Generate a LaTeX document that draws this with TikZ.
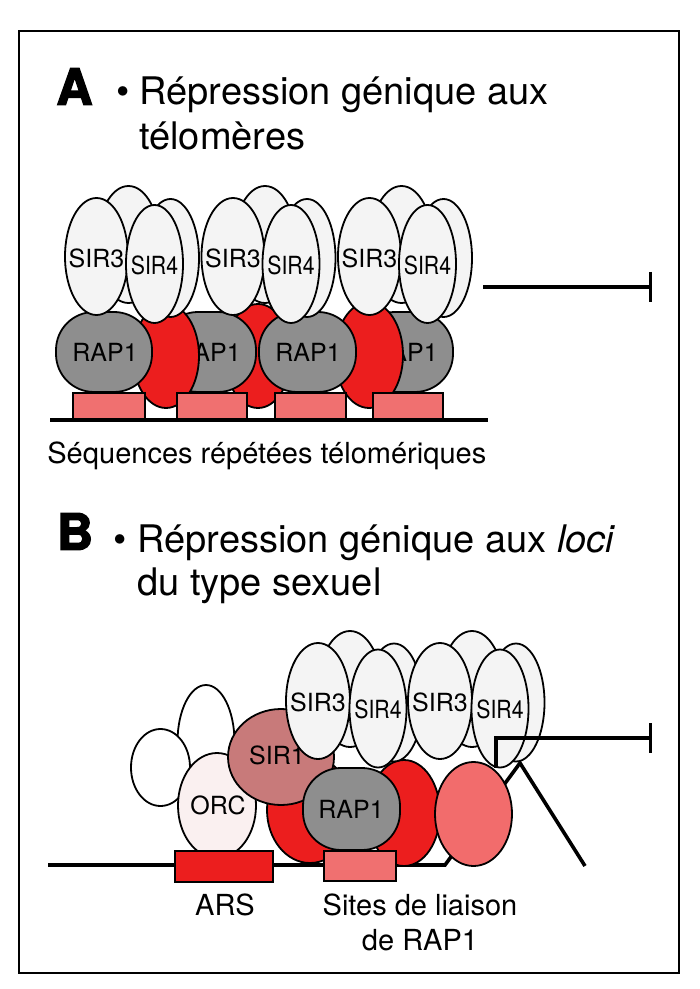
\documentclass[tikz,border=0pt]{standalone}
\usepackage{graphicx}
\usepackage{fontspec}
\setmainfont{TeX Gyre Heros}
\newfontfamily\blockfont[FakeBold=3]{TeX Gyre Heros}
\usetikzlibrary{arrows.meta}
\definecolor{sirwhite}{RGB}{244,244,244}
\definecolor{rapgray}{RGB}{142,142,142}
\definecolor{rapred}{RGB}{236,30,30}
\definecolor{sitepink}{RGB}{240,112,112}
\definecolor{orcpink}{RGB}{250,240,240}
\definecolor{sironerose}{RGB}{200,122,122}
\definecolor{sirpink}{RGB}{242,108,108}

\begin{document}
\begin{tikzpicture}[x=0.5pt,y=-0.5pt]\tikzstyle{every node}+=[inner sep=0pt]
	\tikzstyle{sir}=[draw=black,line width=0.9pt,fill=sirwhite]
	\tikzstyle{rap}=[draw=black,line width=0.9pt,fill=rapgray,rounded corners=19pt]
	\tikzstyle{redblob}=[draw=black,line width=0.9pt,fill=rapred]
	\tikzstyle{site}=[draw=black,line width=0.9pt,fill=sitepink]
	\tikzstyle{dna}=[black,line width=1.8pt]
	\tikzstyle{repress}=[black,line width=1.6pt,-{Bar[width=15pt]}]
	\tikzstyle{protname}=[font=\fontsize{12.5}{14}\selectfont]
	\tikzstyle{heading}=[anchor=base west,font=\fontsize{19}{23}\selectfont]
	\tikzstyle{caption}=[font=\fontsize{14.5}{17}\selectfont]
	\tikzstyle{bigletter}=[font=\blockfont\bfseries\fontsize{25}{25}\selectfont]
	\useasboundingbox (0,0) rectangle (700,989);
	\fill [white] (0,0) rectangle (700,989);
	\draw [black,line width=1.2pt] (19,31) rectangle (679,973);
	% A: telomeres
	\node [bigletter] (letterA) at (74.5,86.5) {A};
	\node [anchor=base,font=\fontsize{19}{23}\selectfont] (bulletA) at (123,105) {\textbullet};
	\node [heading] (titleA1) at (139,105) {Répression génique aux};
	\node [heading] (titleA2) at (139,150) {télomères};
	\draw [redblob] (258,356) ellipse [x radius=33, y radius=52];
	\draw [rap] (160,312) rectangle (256,392);
	\node [protname] (rapA2) at (208,352) {RAP1};
	\draw [rap] (357,312) rectangle (453,392);
	\node [protname] (rapA4) at (405,352) {RAP1};
	\draw [redblob] (166,356) ellipse [x radius=33, y radius=52];
	\draw [redblob] (369,355) ellipse [x radius=34, y radius=53];
	\draw [rap] (56,312) rectangle (152,392);
	\node [protname] (rapA1) at (105,352) {RAP1};
	\draw [rap] (259,312) rectangle (356,392);
	\node [protname] (rapA3) at (308,352) {RAP1};
	\draw [site] (73,393) rectangle (145,420);
	\draw [site] (177,393) rectangle (247,420);
	\draw [site] (275,393) rectangle (346,420);
	\draw [site] (373,393) rectangle (443,420);
	\foreach \dx [count=\i] in {0,136.5,273}{
	  \draw [sir] (128.5+\dx,244.5) ellipse [x radius=31.5, y radius=58.5];
	  \draw [sir] (170.5+\dx,258) ellipse [x radius=28.5, y radius=59];
	  \draw [sir] (96.5+\dx,256.5) ellipse [x radius=31.5, y radius=58.5];
	  \node [protname] (sirthreeA\i) at (96.5+\dx,258) {SIR3};
	  \draw [sir] (154.5+\dx,264) ellipse [x radius=28.5, y radius=59];
	  \node [protname] (sirfourA\i) at (154.5+\dx,265) {\scalebox{0.85}[1]{SIR4}};
	}
	\draw [dna] (50,420) -- (488,420);
	\coordinate (repA) at (483,287);
	\coordinate (stopA) at (652,287);
	\draw [repress] (repA) -- (stopA);
	\node [caption,anchor=base west] (seqA) at (47,463) {Séquences répétées télomériques};
	% B: mating-type loci
	\node [bigletter] (letterB) at (75,531.5) {B};
	\node [anchor=base,font=\fontsize{19}{23}\selectfont] (bulletB) at (120,552) {\textbullet};
	\node [heading] (titleB1) at (137,552) {Répression génique aux \textit{loci}};
	\node [heading] (titleB2) at (137,595) {du type sexuel};
	\draw [dna] (48,865) -- (445,865) -- (520,763) -- (585,866);
	\draw [sir,fill=white] (206,742) ellipse [x radius=28.5, y radius=57];
	\draw [sir,fill=white] (160.5,767.5) ellipse [x radius=29.5, y radius=38.5];
	\draw [sir,fill=orcpink] (217,805.5) ellipse [x radius=39, y radius=52.5];
	\node [protname] (orcB) at (218,805) {ORC};
	\draw [redblob] (310,810) ellipse [x radius=43, y radius=53];
	\draw [sir,fill=sironerose] (281,757) ellipse [x radius=53, y radius=48];
	\node [protname] (sironeB) at (277,755) {SIR1};
	\draw [redblob] (404,813) ellipse [x radius=36, y radius=53];
	\draw [rap] (303,768) rectangle (400,850);
	\node [protname] (rapB) at (351,809) {RAP1};
	\draw [sir,fill=sirpink] (473.5,814) ellipse [x radius=38.5, y radius=52];
	\foreach \dx [count=\i] in {0,122}{
	  \draw [sir] (350+\dx,689) ellipse [x radius=32, y radius=58];
	  \draw [sir] (394+\dx,702.5) ellipse [x radius=28.5, y radius=59];
	  \draw [sir] (318+\dx,701) ellipse [x radius=32, y radius=58];
	  \node [protname] (sirthreeB\i) at (318+\dx,702) {SIR3};
	  \draw [sir] (378+\dx,708.5) ellipse [x radius=28.5, y radius=59];
	  \node [protname] (sirfourB\i) at (378+\dx,709) {\scalebox{0.85}[1]{SIR4}};
	}
	\draw [redblob] (175,851) rectangle (273,882);
	\draw [site] (324,851) rectangle (396,881);
	\coordinate (repB) at (496,768);
	\coordinate (stopB) at (652,738);
	\draw [repress] (repB) |- (stopB);
	\node [caption,anchor=base] (arsB) at (225,915) {ARS};
	\node [caption,anchor=base] (sitesB1) at (420,915) {Sites de liaison};
	\node [caption,anchor=base] (sitesB2) at (420,950) {de RAP1};
\end{tikzpicture}
\end{document}
